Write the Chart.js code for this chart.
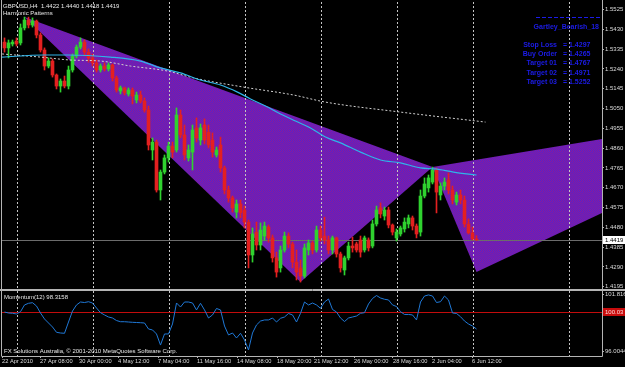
<!DOCTYPE html>
<html>
<head>
<meta charset="utf-8">
<title>GBPUSD,H4 Harmonic Patterns</title>
<script src="https://cdn.jsdelivr.net/npm/chart.js@4/dist/chart.umd.min.js"></script>
<style>
  html, body { margin: 0; padding: 0; background: #000; }
  #wrap { position: relative; width: 625px; height: 367px; background: #000; overflow: hidden; }
  #main, #mom { position: absolute; left: 0; }
  #main { top: 0; }
  #mom { top: 290px; }
</style>
</head>
<body>
<div id="wrap">
  <canvas id="main" width="625" height="290"></canvas>
  <canvas id="mom" width="625" height="77"></canvas>
</div>
<script>
// GBPUSD H4 candles, oldest first
var opens = [
  1.5369, 1.5341, 1.5360, 1.5374, 1.5365, 1.5437, 1.5475, 1.5451, 1.5470, 1.5403,
  1.5331, 1.5254, 1.5278, 1.5211, 1.5158, 1.5182, 1.5158, 1.5235, 1.5302, 1.5345,
  1.5369, 1.5321, 1.5293, 1.5269, 1.5235, 1.5254, 1.5240, 1.5259, 1.5197, 1.5134,
  1.5149, 1.5120, 1.5139, 1.5091, 1.5115, 1.5086, 1.5043, 1.4851, 1.4889, 1.4659,
  1.4745, 1.4813, 1.4870, 1.4851, 1.5019, 1.4923, 1.4813, 1.4841, 1.4957, 1.4899,
  1.4971, 1.4937, 1.4899, 1.4827, 1.4875, 1.4765, 1.4659, 1.4621, 1.4553, 1.4592,
  1.4563, 1.4505, 1.4347, 1.4457, 1.4395, 1.4438, 1.4481, 1.4429, 1.4333, 1.4285,
  1.4371, 1.4438, 1.4400, 1.4313, 1.4285, 1.4246, 1.4371, 1.4405, 1.4371, 1.4467,
  1.4438, 1.4419, 1.4371, 1.4429, 1.4352, 1.4275, 1.4333, 1.4390, 1.4400, 1.4419,
  1.4371, 1.4419, 1.4390, 1.4496, 1.4573, 1.4534, 1.4563, 1.4491, 1.4429, 1.4448,
  1.4472, 1.4496, 1.4525, 1.4486, 1.4457, 1.4630, 1.4669, 1.4697, 1.4755, 1.4635,
  1.4678, 1.4707, 1.4659, 1.4601, 1.4635, 1.4611, 1.4496, 1.4453, 1.4422
];
var highs = [
  1.5389, 1.5379, 1.5379, 1.5389, 1.5456, 1.5489, 1.5489, 1.5485, 1.5475, 1.5413,
  1.5341, 1.5293, 1.5288, 1.5216, 1.5192, 1.5206, 1.5254, 1.5312, 1.5355, 1.5389,
  1.5379, 1.5336, 1.5312, 1.5283, 1.5264, 1.5269, 1.5269, 1.5264, 1.5206, 1.5158,
  1.5153, 1.5149, 1.5149, 1.5129, 1.5134, 1.5101, 1.5062, 1.4909, 1.4899, 1.4755,
  1.4827, 1.4889, 1.4889, 1.5053, 1.5043, 1.4971, 1.4875, 1.4971, 1.5005, 1.4976,
  1.5000, 1.4971, 1.4933, 1.4865, 1.4913, 1.4774, 1.4678, 1.4630, 1.4611, 1.4611,
  1.4582, 1.4515, 1.4477, 1.4505, 1.4501, 1.4505, 1.4491, 1.4443, 1.4361, 1.4390,
  1.4457, 1.4453, 1.4409, 1.4371, 1.4323, 1.4400, 1.4419, 1.4414, 1.4486, 1.4486,
  1.4529, 1.4438, 1.4438, 1.4433, 1.4361, 1.4342, 1.4409, 1.4433, 1.4409, 1.4438,
  1.4438, 1.4429, 1.4515, 1.4582, 1.4597, 1.4577, 1.4577, 1.4496, 1.4472, 1.4486,
  1.4525, 1.4539, 1.4534, 1.4496, 1.4659, 1.4717, 1.4731, 1.4769, 1.4765, 1.4693,
  1.4717, 1.4741, 1.4678, 1.4649, 1.4659, 1.4630, 1.4520, 1.4481, 1.4440
];
var lows = [
  1.5321, 1.5293, 1.5350, 1.5350, 1.5355, 1.5427, 1.5437, 1.5441, 1.5389, 1.5321,
  1.5235, 1.5245, 1.5201, 1.5144, 1.5129, 1.5149, 1.5144, 1.5225, 1.5293, 1.5336,
  1.5302, 1.5273, 1.5254, 1.5225, 1.5225, 1.5230, 1.5230, 1.5182, 1.5129, 1.5120,
  1.5115, 1.5110, 1.5072, 1.5077, 1.5077, 1.5033, 1.4851, 1.4803, 1.4649, 1.4611,
  1.4736, 1.4793, 1.4813, 1.4841, 1.4909, 1.4803, 1.4798, 1.4755, 1.4889, 1.4875,
  1.4880, 1.4861, 1.4817, 1.4817, 1.4745, 1.4640, 1.4601, 1.4553, 1.4525, 1.4525,
  1.4477, 1.4285, 1.4313, 1.4371, 1.4371, 1.4419, 1.4409, 1.4313, 1.4241, 1.4265,
  1.4361, 1.4381, 1.4285, 1.4227, 1.4217, 1.4237, 1.4347, 1.4352, 1.4361, 1.4414,
  1.4400, 1.4352, 1.4352, 1.4337, 1.4265, 1.4251, 1.4323, 1.4361, 1.4361, 1.4337,
  1.4361, 1.4366, 1.4381, 1.4486, 1.4525, 1.4515, 1.4477, 1.4443, 1.4414, 1.4438,
  1.4457, 1.4477, 1.4467, 1.4429, 1.4438, 1.4621, 1.4649, 1.4688, 1.4549, 1.4611,
  1.4659, 1.4640, 1.4592, 1.4587, 1.4592, 1.4481, 1.4448, 1.4419, 1.4418
];
var closes = [
  1.5341, 1.5365, 1.5369, 1.5360, 1.5437, 1.5475, 1.5451, 1.5470, 1.5403, 1.5331,
  1.5254, 1.5278, 1.5211, 1.5158, 1.5182, 1.5158, 1.5235, 1.5302, 1.5345, 1.5369,
  1.5321, 1.5293, 1.5269, 1.5235, 1.5254, 1.5240, 1.5259, 1.5197, 1.5139, 1.5149,
  1.5125, 1.5139, 1.5110, 1.5115, 1.5086, 1.5043, 1.4875, 1.4889, 1.4659, 1.4745,
  1.4813, 1.4870, 1.4841, 1.5019, 1.4923, 1.4827, 1.4851, 1.4947, 1.4909, 1.4957,
  1.4899, 1.4875, 1.4841, 1.4851, 1.4765, 1.4659, 1.4621, 1.4573, 1.4592, 1.4549,
  1.4505, 1.4347, 1.4448, 1.4395, 1.4467, 1.4486, 1.4429, 1.4333, 1.4265, 1.4371,
  1.4438, 1.4400, 1.4313, 1.4265, 1.4246, 1.4381, 1.4405, 1.4371, 1.4467, 1.4429,
  1.4419, 1.4371, 1.4429, 1.4352, 1.4285, 1.4333, 1.4390, 1.4381, 1.4371, 1.4361,
  1.4429, 1.4381, 1.4496, 1.4563, 1.4544, 1.4563, 1.4491, 1.4457, 1.4457, 1.4477,
  1.4505, 1.4525, 1.4486, 1.4448, 1.4630, 1.4688, 1.4717, 1.4755, 1.4649, 1.4678,
  1.4697, 1.4659, 1.4611, 1.4635, 1.4611, 1.4496, 1.4453, 1.4424, 1.4419
];

// Momentum(12), one value per candle
var momentum = [
  100.05, 99.95, 99.92, 99.85, 100.08, 100.77, 100.94, 101.00, 100.66, 99.95,
  99.34, 98.93, 98.52, 97.98, 97.91, 97.88, 99.03, 100.15, 100.77, 101.07,
  101.02, 101.10, 100.97, 100.46, 99.98, 99.75, 99.54, 99.44, 99.18, 99.06,
  99.06, 99.03, 99.00, 98.98, 98.96, 98.93, 98.32, 98.22, 97.81, 96.68,
  97.81, 97.81, 98.83, 100.97, 100.56, 101.07, 101.07, 100.97, 100.26, 100.94,
  100.26, 99.44, 99.75, 100.41, 100.26, 98.62, 97.71, 97.91, 97.40, 97.88,
  97.20, 96.18, 97.91, 98.73, 99.13, 99.24, 99.24, 99.44, 99.03, 99.41,
  99.54, 99.90, 99.75, 99.03, 99.92, 101.07, 100.77, 100.97, 100.77, 100.43,
  101.07, 101.38, 100.31, 100.05, 99.44, 99.08, 99.44, 99.54, 99.64, 99.92,
  99.98, 100.87, 101.43, 101.73, 101.48, 101.35, 101.28, 100.77, 100.61, 100.08,
  99.80, 99.80, 99.75, 99.24, 101.07, 101.68, 101.79, 101.68, 101.02, 101.10,
  101.68, 101.28, 99.95, 99.90, 99.57, 99.13, 98.83, 98.62, 98.3158
];

// moving averages (bar index, price)
var maFastIdx = [-0.6, 9.75, 15.75, 26.5, 34, 39, 44, 49, 54, 58.25, 61.5, 65.25, 69, 72.75, 76.5, 80.25, 84, 89, 94, 99, 104, 107.75, 112.25, 118];
var maFastVal = [1.5297, 1.5307, 1.5307, 1.5297, 1.5278, 1.5245, 1.5221, 1.5187, 1.5163, 1.5129, 1.5096, 1.5062, 1.5024, 1.4990, 1.4957, 1.4913, 1.4885, 1.4841, 1.4803, 1.4789, 1.4765, 1.4760, 1.4745, 1.4731];
var maSlowIdx = [-0.6, 9, 16.5, 24, 31.5, 40.75, 47.25, 59.75, 72.25, 80.25, 99, 120.25];
var maSlowVal = [1.5312, 1.5297, 1.5283, 1.5278, 1.5254, 1.5230, 1.5197, 1.5153, 1.5115, 1.5081, 1.5033, 1.4985];

// Gartley points
var patternNames = ['X', 'A', 'B', 'D', 'C'];
var patternIdx = [5, 74, 107, 118, 209.75];
var patternPrice = [1.5489, 1.4217, 1.4769, 1.4265, 1.5096];

var priceTicks = [1.5525, 1.5430, 1.5335, 1.5240, 1.5145, 1.5050, 1.4955, 1.4860, 1.4765, 1.4670, 1.4575, 1.4480, 1.4385, 1.4290, 1.4195];
var momTicks = [101.816, 96.0044];
var momTickLabels = ['101.816', '96.0044'];
var dateLabels = ['22 Apr 2010', '27 Apr 08:00', '30 Apr 00:00', '4 May 12:00', '7 May 04:00', '11 May 16:00', '14 May 08:00',
  '18 May 20:00', '21 May 12:00', '26 May 00:00', '28 May 16:00', '2 Jun 04:00', '6 Jun 12:00'];
var datePos = [-0.625, 8.875, 18.625, 28.375, 38.375, 48.125, 58.125, 68.125, 77.375, 87.375, 97.125, 106.875, 116.875];
var weekGrid = [3.125, 22.125, 41.125, 60.125, 79.125, 98.125, 117.125, 141.125];

var quote = ['1.4422', '1.4440', '1.4418', '1.4419'];
var bid = 1.4419;
var momLevel = 100.03;
var targetNames = ['Stop Loss', 'Buy Order', 'Target 01', 'Target 02', 'Target 03'];
var targetValues = ['1.4297', '1.4265', '1.4767', '1.4971', '1.5252'];

var xMin = -0.625, xMax = 149.375;
var green = '#2fd22f', red = '#e32020';
var frame = '#b4b4b4';
var font = 'Liberation Sans';
Chart.defaults.font.family = font;

function pt(i) { return { x: patternIdx[i], y: patternPrice[i] }; }

// purple dotted fill like the MT4 triangles
function hatch() {
  var c = document.createElement('canvas');
  c.width = 2; c.height = 2;
  var g = c.getContext('2d');
  g.fillStyle = '#5520cc';
  g.fillRect(0, 0, 2, 2);
  g.fillStyle = '#8c1c98';
  g.fillRect(1, 0, 1, 1);
  g.fillRect(0, 1, 1, 1);
  return g.createPattern(c, 'repeat');
}

function candleColor(c) {
  return closes[c.dataIndex] >= opens[c.dataIndex] ? green : red;
}

function drawWeekGrid(ctx, xs, top, bottom) {
  ctx.save();
  ctx.strokeStyle = '#c4c4c4';
  ctx.lineWidth = 1;
  ctx.setLineDash([2, 2]);
  weekGrid.forEach(function (v) {
    var x = Math.round(xs.getPixelForValue(v)) + 0.5;
    ctx.beginPath();
    ctx.moveTo(x, top);
    ctx.lineTo(x, bottom);
    ctx.stroke();
  });
  ctx.restore();
}

function text(ctx, s, x, y, color, f, align) {
  ctx.fillStyle = color;
  ctx.font = f;
  ctx.textAlign = align || 'left';
  ctx.textBaseline = 'middle';
  ctx.fillText(s, x, y);
}

var mainDecor = {
  id: 'mainDecor',
  beforeDatasetDraw: function (chart, args) {
    if (chart.data.datasets[args.index].label !== 'wicks') return;
    var ctx = chart.ctx, a = chart.chartArea;
    drawWeekGrid(ctx, chart.scales.x, a.top, a.bottom);
    var y = Math.round(chart.scales.y.getPixelForValue(bid)) + 0.5;
    ctx.save();
    ctx.strokeStyle = '#6c6c6c';
    ctx.lineWidth = 1;
    ctx.beginPath();
    ctx.moveTo(a.left, y);
    ctx.lineTo(a.right, y);
    ctx.stroke();
    ctx.restore();
  },
  afterDraw: function (chart) {
    var ctx = chart.ctx, a = chart.chartArea, ys = chart.scales.y;
    ctx.save();
    // frame
    ctx.strokeStyle = frame;
    ctx.lineWidth = 1;
    ctx.beginPath();
    ctx.moveTo(1.5, 0); ctx.lineTo(1.5, 290);
    ctx.moveTo(a.right + 0.5, 0); ctx.lineTo(a.right + 0.5, 290);
    ctx.moveTo(0, 289.5); ctx.lineTo(625, 289.5);
    ctx.stroke();

    // current price box
    var y = ys.getPixelForValue(bid);
    ctx.fillStyle = '#ffffff';
    ctx.fillRect(a.right + 1, Math.round(y) - 4, 23, 8);
    text(ctx, bid.toFixed(4), a.right + 3, y, '#000000', '6px "' + font + '"');

    // title
    text(ctx, 'GBPUSD,H4  ' + quote.join(' '), 3, 6, '#e8e8e8', '6px "' + font + '"');
    text(ctx, 'Harmonic Patterns', 3, 13, '#e8e8e8', '6px "' + font + '"');

    // pattern info box
    var blue = '#1c1ce8';
    ctx.strokeStyle = blue;
    ctx.setLineDash([4, 2]);
    ctx.beginPath();
    ctx.moveTo(536, 17.5); ctx.lineTo(600, 17.5);
    ctx.stroke();
    ctx.setLineDash([]);
    text(ctx, 'Gartley_Bearish_18', 599, 27, blue, 'bold 7px "' + font + '"', 'right');
    var rows = [45, 54, 63, 73, 82];
    targetNames.forEach(function (n, i) {
      text(ctx, n, 557, rows[i], blue, 'bold 7px "' + font + '"', 'right');
      text(ctx, '= ' + targetValues[i], 563, rows[i], blue, 'bold 7px "' + font + '"', 'left');
    });
    ctx.restore();
  }
};

var momDecor = {
  id: 'momDecor',
  beforeDatasetsDraw: function (chart) {
    var ctx = chart.ctx, a = chart.chartArea;
    drawWeekGrid(ctx, chart.scales.x, a.top, a.bottom);
    var y = Math.round(chart.scales.y.getPixelForValue(momLevel)) + 0.5;
    ctx.save();
    ctx.strokeStyle = '#c20c0c';
    ctx.lineWidth = 1;
    ctx.beginPath();
    ctx.moveTo(a.left, y);
    ctx.lineTo(a.right, y);
    ctx.stroke();
    ctx.restore();
  },
  afterDraw: function (chart) {
    var ctx = chart.ctx, a = chart.chartArea, ys = chart.scales.y;
    ctx.save();
    ctx.strokeStyle = frame;
    ctx.lineWidth = 1;
    ctx.beginPath();
    ctx.moveTo(0, 0.5); ctx.lineTo(625, 0.5);
    ctx.moveTo(1.5, 0); ctx.lineTo(1.5, a.bottom);
    ctx.moveTo(a.right + 0.5, 0); ctx.lineTo(a.right + 0.5, a.bottom + 0.5);
    ctx.moveTo(1.5, a.bottom + 0.5); ctx.lineTo(a.right + 0.5, a.bottom + 0.5);
    ctx.stroke();

    var y = ys.getPixelForValue(momLevel);
    ctx.fillStyle = '#c80c0c';
    ctx.fillRect(a.right + 1, Math.round(y) - 4, 23, 8);
    text(ctx, momLevel.toFixed(2), a.right + 3, y, '#ffd8d8', '6px "' + font + '"');

    text(ctx, 'Momentum(12) ' + momentum[momentum.length - 1].toFixed(4), 4, 7, '#e8e8e8', '6px "' + font + '"');
    text(ctx, 'FX Solutions Australia, \u00a9 2001-2010 MetaQuotes Software Corp.', 4, 61, '#e8e8e8', '6px "' + font + '"');
    ctx.restore();
  }
};

var fill = hatch();

new Chart(document.getElementById('main'), {
  type: 'bar',
  data: {
    datasets: [
      {
        type: 'line', label: 'XAB', order: 10,
        data: [pt(0), pt(1), pt(2)],
        fill: 'shape', backgroundColor: fill, borderColor: 'rgba(0,0,0,0)',
        borderWidth: 0, pointRadius: 0, tension: 0
      },
      {
        type: 'line', label: 'BCD', order: 10,
        data: [pt(2), pt(3), pt(4)],
        fill: 'shape', backgroundColor: fill, borderColor: 'rgba(0,0,0,0)',
        borderWidth: 0, pointRadius: 0, tension: 0
      },
      {
        label: 'wicks', order: 5, grouped: false, barThickness: 1,
        data: highs.map(function (h, i) { return { x: i, y: [lows[i], h] }; }),
        backgroundColor: candleColor, borderWidth: 0
      },
      {
        label: 'bodies', order: 4, grouped: false, barThickness: 3, minBarLength: 1,
        data: opens.map(function (o, i) { return { x: i, y: [o, closes[i]] }; }),
        backgroundColor: candleColor, borderWidth: 0
      },
      {
        type: 'line', label: 'slow MA', order: 3,
        data: maSlowIdx.map(function (v, i) { return { x: v, y: maSlowVal[i] }; }),
        borderColor: '#d0d0d0', borderWidth: 1, borderDash: [2, 2],
        pointRadius: 0, cubicInterpolationMode: 'monotone', fill: false
      },
      {
        type: 'line', label: 'fast MA', order: 2,
        data: maFastIdx.map(function (v, i) { return { x: v, y: maFastVal[i] }; }),
        borderColor: '#30b4e8', borderWidth: 1.2,
        pointRadius: 0, cubicInterpolationMode: 'monotone', fill: false
      }
    ]
  },
  options: {
    responsive: false,
    animation: false,
    events: [],
    layout: { padding: { left: 2, top: 2, right: 0, bottom: 2 } },
    plugins: { legend: { display: false }, tooltip: { enabled: false } },
    scales: {
      x: { type: 'linear', min: xMin, max: xMax, offset: false, display: false },
      y: {
        type: 'linear', position: 'right', min: 1.41886, max: 1.55614,
        afterDataLimits: function (s) { s.min = 1.41886; s.max = 1.55614; },
        afterBuildTicks: function (s) { s.ticks = priceTicks.map(function (v) { return { value: v }; }); },
        afterFit: function (s) { s.width = 23; s.paddingTop = 0; s.paddingBottom = 0; },
        ticks: {
          autoSkip: false, padding: 1, color: '#dcdcdc',
          font: { family: font, size: 6 },
          callback: function (v) { return Number(v).toFixed(4); }
        },
        grid: { drawOnChartArea: false, drawTicks: true, tickLength: 2, color: frame },
        border: { display: false }
      }
    }
  },
  plugins: [mainDecor]
});

new Chart(document.getElementById('mom'), {
  type: 'line',
  data: {
    datasets: [{
      label: 'Momentum(12)',
      data: momentum.map(function (v, i) { return { x: i, y: v }; }),
      borderColor: '#1f78d6', borderWidth: 1, pointRadius: 0, tension: 0, fill: false
    }]
  },
  options: {
    responsive: false,
    animation: false,
    events: [],
    layout: { padding: { left: 2, top: 1, right: 0, bottom: 0 } },
    plugins: { legend: { display: false }, tooltip: { enabled: false } },
    scales: {
      x: {
        type: 'linear', min: xMin, max: xMax, offset: false, position: 'bottom',
        afterBuildTicks: function (s) { s.ticks = datePos.map(function (v) { return { value: v }; }); },
        afterFit: function (s) { s.height = 11; s.paddingLeft = 0; s.paddingRight = 0; },
        ticks: {
          autoSkip: false, maxRotation: 0, align: 'start', padding: 0, color: '#dcdcdc',
          font: { family: font, size: 5.7 },
          callback: function (v, i) { return dateLabels[i]; }
        },
        grid: { drawOnChartArea: false, drawTicks: true, tickLength: 2, color: frame },
        border: { display: false }
      },
      y: {
        type: 'linear', position: 'right', min: 95.563, max: 102.193,
        afterBuildTicks: function (s) { s.ticks = momTicks.map(function (v) { return { value: v }; }); },
        afterFit: function (s) { s.width = 23; s.paddingTop = 0; s.paddingBottom = 0; },
        ticks: {
          autoSkip: false, padding: 1, color: '#dcdcdc',
          font: { family: font, size: 6 },
          callback: function (v, i) { return momTickLabels[i]; }
        },
        grid: { drawOnChartArea: false, drawTicks: true, tickLength: 2, color: frame },
        border: { display: false }
      }
    }
  },
  plugins: [momDecor]
});
</script>
</body>
</html>
